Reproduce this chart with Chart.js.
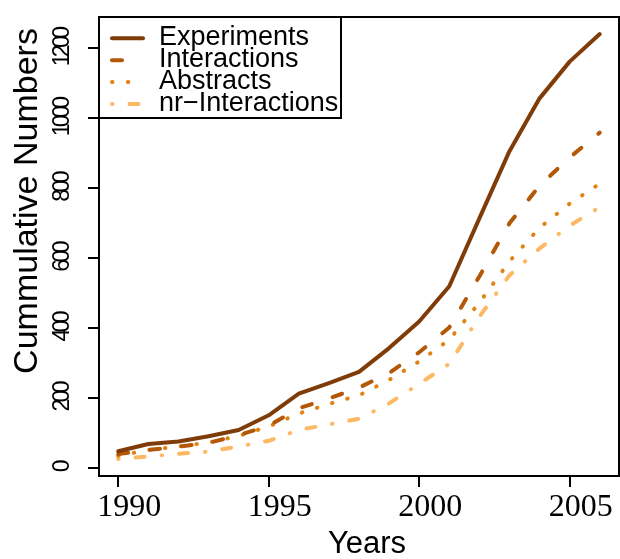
<!DOCTYPE html>
<html><head><meta charset="utf-8">
<script src="https://cdn.jsdelivr.net/npm/chart.js@4/dist/chart.umd.min.js"></script>
<style>html,body{margin:0;padding:0;background:#fff;}canvas{display:block;}</style>
</head><body>
<canvas id="c" width="620" height="559"></canvas>
<script>
const years = [1990,1991,1992,1993,1994,1995,1996,1997,1998,1999,2000,2001,2002,2003,2004,2005,2006];
const experiments    = [47,68,75,90,108,150,212,242,274,342,418,519,713,905,1056,1161,1240];
const interactions   = [39,51,60,71,93,120,170,198,229,271,330,401,547,699,806,887,958];
const abstracts      = [34,51,61,72,91,118,155,182,207,251,304,366,472,590,686,755,812];
const nrInteractions = [25,32,40,46,61,77,108,124,140,184,240,297,432,550,627,692,745];
const seriesNames = ['Experiments','Interactions','Abstracts','nr\u2212Interactions'];
const xTicks = [1990,1995,2000,2005];
const yTicks = [0,200,400,600,800,1000,1200];
const xTitle = 'Years';
const yTitle = 'Cummulative Numbers';

const colors = ['#7F3B08','#B35806','#E08214','#FDB863'];
const dashes = [[], [10,22], [0.5,15.3], [0.5,17,9,17]];
const seriesValues = [experiments, interactions, abstracts, nrInteractions];

const yFontFamily = '"Liberation Sans", Arial, sans-serif';
const yFontSize = 23;

const datasets = seriesValues.map((vals,i)=>({
  label: seriesNames[i],
  data: years.map((y,j)=>({x:y, y:vals[j]})),
  borderColor: colors[i],
  backgroundColor: colors[i],
  borderWidth: 4,
  borderDash: dashes[i],
  borderCapStyle: 'round',
  borderJoinStyle: 'round',
  pointRadius: 0,
  tension: 0,
  fill: false
}));

// condense y tick labels (drawn in the z<=0 layer); x tick labels are drawn after datasets (ticks.z:1)
const spacingPlugin = {
  id:'spacing',
  beforeDraw(chart){ if ('letterSpacing' in chart.ctx) chart.ctx.letterSpacing = '-3.6px'; },
  beforeDatasetsDraw(chart){ if ('letterSpacing' in chart.ctx) chart.ctx.letterSpacing = '0px'; }
};

const framePlugin = {
  id:'frame',
  afterDraw(chart){
    const {ctx, chartArea:a} = chart;
    ctx.save();
    if ('letterSpacing' in ctx) ctx.letterSpacing = '0px';
    ctx.strokeStyle='#000'; ctx.lineWidth=2;
    ctx.strokeRect(a.left, a.top, a.right-a.left, a.bottom-a.top);
    const lx=a.left, ly=a.top, lw=242, lh=101;
    ctx.fillStyle='#fff';
    ctx.fillRect(lx+1, ly+1, lw-2, lh-2);
    ctx.strokeRect(lx, ly, lw, lh);
    const ds = chart.data.datasets;
    ds.forEach((d,i)=>{
      const cy = ly + 21.3 + 21.9*i;
      ctx.save();
      ctx.strokeStyle=d.borderColor; ctx.lineWidth=d.borderWidth;
      ctx.lineCap='round'; ctx.setLineDash(d.borderDash);
      ctx.beginPath(); ctx.moveTo(lx+13, cy); ctx.lineTo(lx+44, cy); ctx.stroke();
      ctx.restore();
      ctx.fillStyle='#000';
      ctx.font='27px "Liberation Sans", Arial, sans-serif';
      ctx.textAlign='left'; ctx.textBaseline='alphabetic';
      ctx.fillText(d.label, lx+60, ly + 28 + 21.9*i);
    });
    ctx.fillStyle='#000';
    ctx.font='31px "Liberation Sans", Arial, sans-serif';
    ctx.textAlign='center'; ctx.textBaseline='alphabetic';
    ctx.fillText(xTitle, (a.left+a.right)/2 + 8, 553);
    ctx.save();
    ctx.translate(37, 201); ctx.rotate(-Math.PI/2);
    ctx.font='34px "Liberation Sans", Arial, sans-serif';
    ctx.fillText(yTitle, 0, 0);
    ctx.restore();
    ctx.restore();
  }
};

new Chart(document.getElementById('c'), {
  type:'line',
  data:{datasets},
  plugins:[spacingPlugin, framePlugin],
  options:{
    responsive:false, animation:false, devicePixelRatio:1,
    layout:{padding:{left:0,right:1,top:17,bottom:0}},
    plugins:{legend:{display:false}, tooltip:{enabled:false}},
    scales:{
      x:{
        type:'linear', min:1989.36, max:2006.64,
        afterBuildTicks:s=>{ s.ticks = xTicks.map(v=>({value:v})); },
        afterFit:s=>{ s.height = 83; },
        border:{display:false},
        grid:{display:true, drawOnChartArea:false, drawTicks:true, tickLength:11, tickWidth:2, tickColor:'#000', color:'#000', lineWidth:2},
        ticks:{z:1, font:{family:'"Liberation Serif","Times New Roman",serif', size:32}, color:'#000', padding:1, labelOffset:11, minRotation:0, maxRotation:0, autoSkip:false, callback:v=>String(v)}
      },
      y:{
        type:'linear', min:-23.6, max:1288.6,
        afterBuildTicks:s=>{ s.ticks = yTicks.map(v=>({value:v})); },
        afterFit:s=>{ s.width = 99; },
        border:{display:false},
        grid:{display:true, drawOnChartArea:false, drawTicks:true, tickLength:11, tickWidth:2, tickColor:'#000', color:'#000', lineWidth:2},
        ticks:{font:{family:yFontFamily, size:yFontSize}, color:'#000', padding:0, crossAlign:'center', minRotation:90, maxRotation:90, autoSkip:false, callback:v=>String(v)}
      }
    }
  }
});
</script>
</body></html>
